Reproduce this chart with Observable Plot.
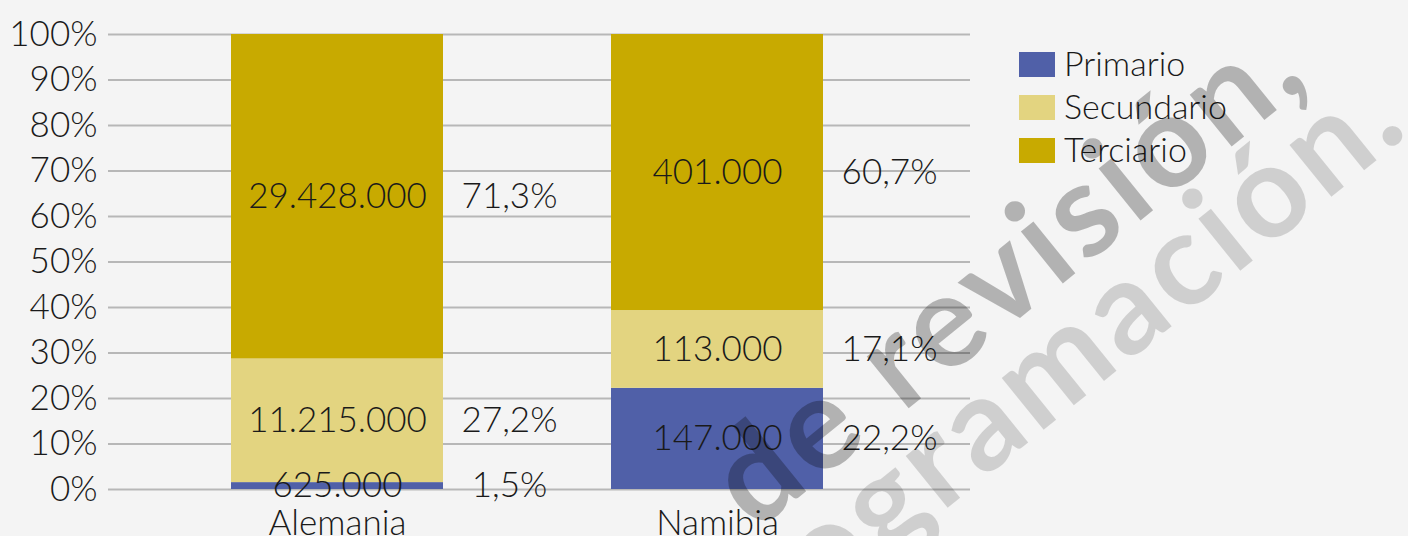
<!DOCTYPE html>
<html>
<head>
<meta charset="utf-8">
<script src="https://cdn.jsdelivr.net/npm/d3@7"></script>
<script src="https://cdn.jsdelivr.net/npm/@observablehq/plot@0.6"></script>
<style>
  html, body { margin: 0; padding: 0; background: #f4f4f4; }
  #wrap { position: relative; width: 1408px; height: 536px; overflow: hidden; font-family: Lato, "Open Sans", sans-serif; font-weight: 300; color: #1a1a1a; }
  #legend { position: absolute; left: 1019px; top: 52px; }
  .item { position: relative; height: 43px; width: 300px; }
  .sw { position: absolute; left: 0; top: 0; width: 36px; height: 25px; }
  .lab { position: absolute; left: 45px; top: -6px; font-size: 34px; line-height: 1; white-space: nowrap; }
  #wm { position: absolute; left: 0; top: 0; pointer-events: none; }
</style>
</head>
<body>
<div id="wrap">
  <div id="chart"></div>
  <div id="legend"></div>
  <svg id="wm" width="1408" height="536"></svg>
</div>
<script>
const categories = ["Alemania", "Namibia"];
const sectors = ["Primario", "Secundario", "Terciario"];
const alemaniaValues = [625000, 11215000, 29428000];
const namibiaValues = [147000, 113000, 401000];
const alemaniaPct = ["1,5%", "27,2%", "71,3%"];
const namibiaPct = ["22,2%", "17,1%", "60,7%"];
const sectorColors = ["#5060a8", "#e3d480", "#c8aa00"];
const yTicks = [0, 0.1, 0.2, 0.3, 0.4, 0.5, 0.6, 0.7, 0.8, 0.9, 1];
const watermarkLines = ["de revisión,", "programación."];

const rows = [];
categories.forEach((c, i) => {
  const vals = i === 0 ? alemaniaValues : namibiaValues;
  const pcts = i === 0 ? alemaniaPct : namibiaPct;
  sectors.forEach((s, j) => rows.push({country: c, sector: s, value: vals[j], pct: pcts[j]}));
});

const fmt = v => d3.format(",")(v).replace(/,/g, ".");
const stackOpts = {offset: "normalize"};

const chart = Plot.plot({
  width: 1408,
  height: 536,
  marginTop: 34,
  marginBottom: 47,
  marginLeft: 108,
  marginRight: 438,
  style: {background: "transparent", fontFamily: "Lato, 'Open Sans', sans-serif", fontSize: "35px", fontWeight: 300, color: "#1a1a1a", overflow: "visible"},
  x: {domain: categories, range: [96, 958], paddingInner: 0.442, paddingOuter: 0.355, label: null, tickSize: 0, tickPadding: 21},
  y: {domain: [0, 1], label: null, tickSize: 0, tickPadding: 11, ticks: yTicks, tickFormat: d => Math.round(d * 100) + "%"},
  color: {domain: sectors, range: sectorColors},
  marks: [
    Plot.ruleY(yTicks, {stroke: "#b7b7b7", strokeWidth: 2}),
    Plot.barY(rows, Plot.stackY(stackOpts, {x: "country", y: "value", fill: "sector", z: "sector"})),
    Plot.text(rows, Plot.stackY(stackOpts, {x: "country", y: "value", z: "sector", text: d => fmt(d.value), fill: "#1a1a1a"})),
    Plot.text(rows, Plot.stackY(stackOpts, {x: "country", y: "value", z: "sector", text: "pct", dx: 172, fill: "#1a1a1a"}))
  ]
});
document.getElementById("chart").appendChild(chart);

const legend = document.getElementById("legend");
sectors.forEach((s, i) => {
  const it = document.createElement("div");
  it.className = "item";
  it.innerHTML = `<div class="sw" style="background:${sectorColors[i]}"></div><div class="lab">${s}</div>`;
  legend.appendChild(it);
});

const wm = d3.select("#wm");
const wmStyle = [
  {tx: 1314, ty: 80, fill: "rgba(0,0,0,0.27)"},
  {tx: 1414, ty: 130, fill: "rgba(0,0,0,0.15)"}
];
watermarkLines.forEach((t, i) => {
  wm.append("text")
    .attr("transform", `translate(${wmStyle[i].tx},${wmStyle[i].ty}) rotate(-39)`)
    .attr("text-anchor", "end")
    .attr("font-family", "Lato, 'Open Sans', sans-serif")
    .attr("font-weight", 700)
    .attr("font-size", 130)
    .attr("letter-spacing", 5)
    .attr("fill", wmStyle[i].fill)
    .text(t);
});
</script>
</body>
</html>
